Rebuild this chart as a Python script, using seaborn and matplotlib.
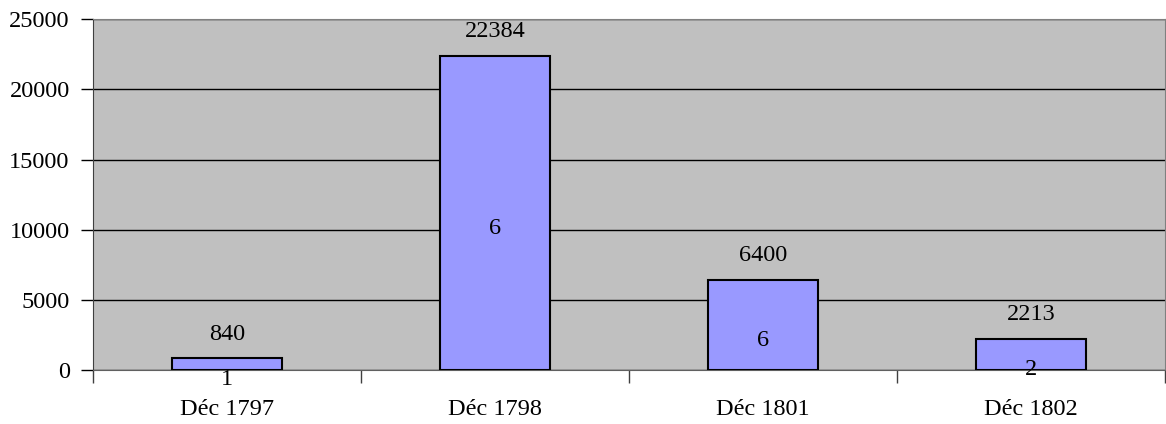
import seaborn as sns
import matplotlib.pyplot as plt
import pandas as pd

periods = ["Déc 1797", "Déc 1798", "Déc 1801", "Déc 1802"]
totals = [840, 22384, 6400, 2213]
counts = [1, 6, 6, 2]

df = pd.DataFrame({"period": periods, "total": totals, "count": counts})

sns.set_style("white")
plt.rcParams["font.family"] = ["Liberation Serif", "DejaVu Serif"]
plt.rcParams["font.size"] = 17.5
plt.rcParams["text.color"] = "black"
plt.rcParams["xtick.color"] = "black"
plt.rcParams["ytick.color"] = "black"

fig = plt.figure(figsize=(11.66, 4.24), dpi=100)
ax = fig.add_axes([0.08, 0.127, 0.919, 0.828])
ax.set_facecolor("#c0c0c0")

sns.barplot(data=df, x="period", y="total", color="#9999ff", saturation=1,
            edgecolor="black", linewidth=1.5, width=0.41, ax=ax, zorder=3)

ax.set_ylim(0, 25000)
ax.set_xlim(-0.5, 3.5)
ax.set_yticks(range(0, 25001, 5000))
ax.grid(axis="y", color="black", linewidth=1, zorder=0)
ax.set_axisbelow(True)
ax.set_xlabel(None)
ax.set_ylabel(None)

# category boundary ticks
ax.set_xticks([-0.5, 0.5, 1.5, 2.5, 3.5], minor=True)
ax.tick_params(axis="x", which="major", length=0, pad=21, labelsize=17.5, labelcolor="black")
ax.tick_params(axis="x", which="minor", length=9, width=1, color="#404040", direction="out", bottom=True)
ax.tick_params(axis="y", length=9, width=1, color="black", direction="out", left=True, pad=8,
               labelsize=17.5, labelcolor="black")

for side in ["top", "right"]:
    ax.spines[side].set_color("#808080")
ax.spines["left"].set_color("#404040")
ax.spines["bottom"].set_color("#606060")

for i, (t, c) in enumerate(zip(totals, counts)):
    ax.annotate(str(t), (i, t), xytext=(0, 17.5), textcoords="offset points",
                ha="center", va="center", fontsize=17.5, color="black")
    ax.annotate(str(c), (i, t / 2), xytext=(0, -11), textcoords="offset points",
                ha="center", va="center", fontsize=17.5, color="black", zorder=5)

fig.savefig("out.png", dpi=100)
